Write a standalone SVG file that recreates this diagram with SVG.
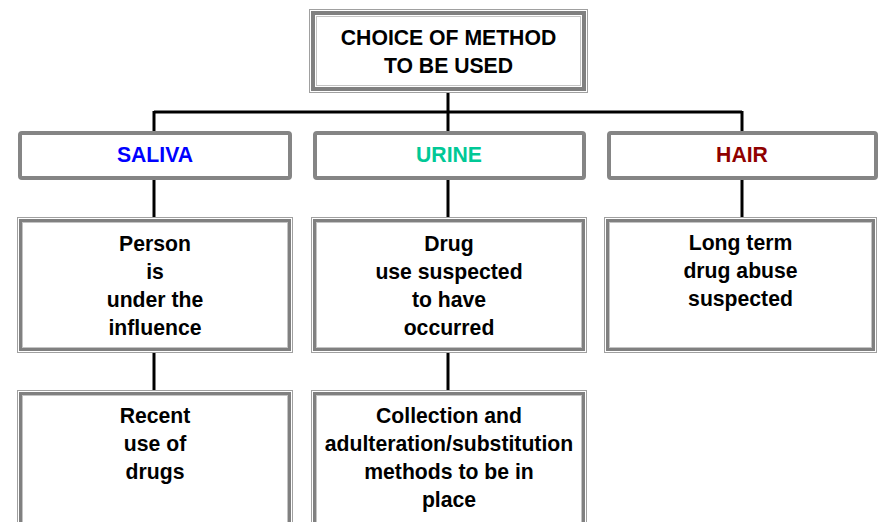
<svg xmlns="http://www.w3.org/2000/svg" width="881" height="522" viewBox="0 0 881 522">
<style>
  text { font-family: "Liberation Sans", Arial, sans-serif; font-weight: bold; font-size: 21.2px; text-anchor: middle; fill: #000; }
  .o { fill: #fff; stroke: #a0a0a0; stroke-width: 1; }
  .m { fill: none; stroke: #808080; stroke-width: 3; }
  .i { fill: none; stroke: #c4c4c4; stroke-width: 1; }
  .cat { fill: #fff; stroke: #858585; stroke-width: 4; }
  .conn { stroke: #000; stroke-width: 3; fill: none; }
</style>
<rect width="881" height="522" fill="#fff"/>
<g id="connectors">
  <line class="conn" x1="448" y1="93" x2="448" y2="131"/>
  <line class="conn" x1="154" y1="112" x2="742" y2="112"/>
  <line class="conn" x1="154" y1="111" x2="154" y2="131"/>
  <line class="conn" x1="742" y1="111" x2="742" y2="131"/>
  <line class="conn" x1="154" y1="180" x2="154" y2="217"/>
  <line class="conn" x1="448" y1="180" x2="448" y2="217"/>
  <line class="conn" x1="742" y1="180" x2="742" y2="217"/>
  <line class="conn" x1="154" y1="353" x2="154" y2="390"/>
  <line class="conn" x1="448" y1="353" x2="448" y2="390"/>
</g>
<g id="choice">
  <rect class="o" x="309.5" y="9.5" width="278" height="83"/>
  <rect class="m" x="313" y="13" width="271" height="76" style="stroke-width:4"/>
  <rect class="i" x="316.5" y="16.5" width="264" height="69"/>
  <text x="448.5" y="45">CHOICE OF METHOD</text>
  <text x="448.5" y="73">TO BE USED</text>
</g>
<g id="saliva">
  <rect class="cat" x="20" y="133" width="270" height="45" rx="2"/>
  <text x="155" y="162" style="fill:#0000ff">SALIVA</text>
</g>
<g id="urine">
  <rect class="cat" x="315" y="133" width="269" height="45" rx="2"/>
  <text x="449" y="162" style="fill:#00c896">URINE</text>
</g>
<g id="hair">
  <rect class="cat" x="609" y="133" width="267" height="45" rx="2"/>
  <text x="742" y="162" style="fill:#8f0000">HAIR</text>
</g>
<g id="person">
  <rect class="o" x="17.5" y="217.5" width="275" height="135"/>
  <rect class="m" x="20.5" y="220.5" width="269" height="129"/>
  <rect class="i" x="22.5" y="222.5" width="265" height="125"/>
  <text x="155" y="251">Person</text>
  <text x="155" y="279">is</text>
  <text x="155" y="307">under the</text>
  <text x="155" y="335">influence</text>
</g>
<g id="drug">
  <rect class="o" x="311.5" y="217.5" width="275" height="135"/>
  <rect class="m" x="314.5" y="220.5" width="269" height="129"/>
  <rect class="i" x="316.5" y="222.5" width="265" height="125"/>
  <text x="449" y="251">Drug</text>
  <text x="449" y="279">use suspected</text>
  <text x="449" y="307">to have</text>
  <text x="449" y="335">occurred</text>
</g>
<g id="longterm">
  <rect class="o" x="604.5" y="217.5" width="272" height="135"/>
  <rect class="m" x="607.5" y="220.5" width="266" height="129"/>
  <rect class="i" x="609.5" y="222.5" width="262" height="125"/>
  <text x="740.5" y="250">Long term</text>
  <text x="740.5" y="278">drug abuse</text>
  <text x="740.5" y="306">suspected</text>
</g>
<g id="recent">
  <rect class="o" x="17.5" y="390.5" width="275" height="145"/>
  <rect class="m" x="20.5" y="393.5" width="269" height="139"/>
  <rect class="i" x="22.5" y="395.5" width="265" height="135"/>
  <text x="155" y="423">Recent</text>
  <text x="155" y="451">use of</text>
  <text x="155" y="479">drugs</text>
</g>
<g id="collection">
  <rect class="o" x="311.5" y="390.5" width="275" height="145"/>
  <rect class="m" x="314.5" y="393.5" width="269" height="139"/>
  <rect class="i" x="316.5" y="395.5" width="265" height="135"/>
  <text x="449" y="423">Collection and</text>
  <text x="449" y="451">adulteration/substitution</text>
  <text x="449" y="479">methods to be in</text>
  <text x="449" y="507">place</text>
</g>
</svg>
